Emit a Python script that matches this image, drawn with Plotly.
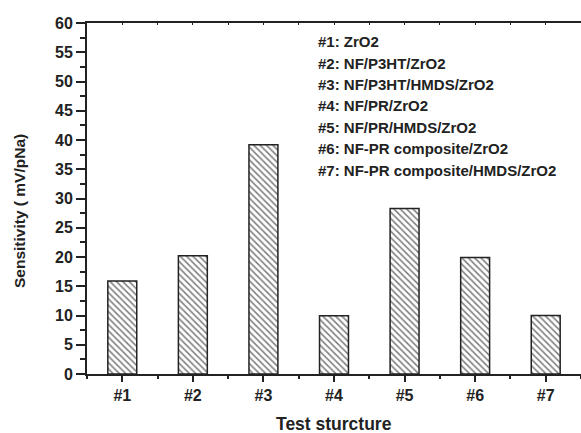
import plotly.graph_objects as go

categories = ["#1", "#2", "#3", "#4", "#5", "#6", "#7"]
sensitivity = [15.9, 20.2, 39.2, 9.95, 28.3, 19.9, 10.0]
legend_lines = [
    "#1: ZrO2",
    "#2: NF/P3HT/ZrO2",
    "#3: NF/P3HT/HMDS/ZrO2",
    "#4: NF/PR/ZrO2",
    "#5: NF/PR/HMDS/ZrO2",
    "#6: NF-PR composite/ZrO2",
    "#7: NF-PR composite/HMDS/ZrO2",
]
y_ticks = list(range(0, 61, 5))

W, H = 581, 433
L, T, B, R = 87, 23, 59, 0
plot_h = H - T - B
plot_w = W - L - R

FONT = "Liberation Sans, Arial, sans-serif"
INK = "#222222"
xs = list(range(len(categories)))

fig = go.Figure()
fig.add_trace(go.Bar(
    x=xs, y=sensitivity, width=0.41,
    marker=dict(
        color="white",
        line=dict(color=INK, width=1.5),
        pattern=dict(shape="\\", fgcolor="#000000", bgcolor="white", size=4.5, solidity=0.35),
    ),
    showlegend=False,
))
# invisible trace to carry the top axis
fig.add_trace(go.Scatter(x=[xs[0]], y=[0], xaxis="x2", mode="markers",
                         marker=dict(opacity=0), showlegend=False, hoverinfo="skip"))

half_ticks = [i - 0.5 for i in range(len(categories) + 1)]
top_ticks = sorted(xs + half_ticks)

fig.update_layout(
    width=W, height=H,
    margin=dict(l=L, r=R, t=T, b=B, pad=0),
    paper_bgcolor="white", plot_bgcolor="white",
    font=dict(family=FONT, size=15, color=INK),
    xaxis=dict(
        range=[-0.5, 6.5], tickvals=xs, ticktext=["<b>%s</b>" % c for c in categories],
        ticks="outside", ticklen=6, tickwidth=1.5, tickcolor=INK,
        showline=True, linecolor=INK, linewidth=1.8,
        showgrid=False, zeroline=False,
        tickfont=dict(family=FONT, size=16, color=INK),
        minor=dict(tickvals=half_ticks, ticks="outside", ticklen=3, tickwidth=1.5, tickcolor=INK),
    ),
    xaxis2=dict(
        overlaying="x", side="top", anchor="y", range=[-0.5, 6.5],
        tickvals=top_ticks, ticks="inside", ticklen=2, tickwidth=1.2, tickcolor=INK,
        showticklabels=False, showline=True, linecolor=INK, linewidth=1.8,
        showgrid=False, zeroline=False,
    ),
    yaxis=dict(
        range=[0, 60], tickvals=y_ticks, ticktext=["<b>%d</b>" % v for v in y_ticks],
        ticks="outside", ticklen=9, tickwidth=1.5, tickcolor=INK,
        showline=True, linecolor=INK, linewidth=1.8,
        showgrid=False, zeroline=False,
        tickfont=dict(family=FONT, size=16, color=INK),
        minor=dict(dtick=2.5, ticks="outside", ticklen=5, tickwidth=1.5, tickcolor=INK),
    ),
)

def px_to_paper_y(py):
    return (H - B - py) / plot_h

def px_to_paper_x(px):
    return (px - L) / plot_w

# axis titles
fig.add_annotation(text="<b>Test sturcture</b>", xref="paper", yref="paper",
                   x=px_to_paper_x(334), y=px_to_paper_y(424),
                   xanchor="center", yanchor="middle", showarrow=False,
                   font=dict(family=FONT, size=17.5, color=INK))
fig.add_annotation(text="<b>Sensitivity ( mV/pNa)</b>", xref="paper", yref="paper",
                   x=px_to_paper_x(19), y=px_to_paper_y(211), textangle=-90,
                   xanchor="center", yanchor="middle", showarrow=False,
                   font=dict(family=FONT, size=15.5, color=INK))

# legend text lines
for i, line in enumerate(legend_lines):
    fig.add_annotation(text="<b>" + line + "</b>", xref="paper", yref="paper",
                       x=px_to_paper_x(316), y=px_to_paper_y(41.7 + 21.4 * i),
                       xanchor="left", yanchor="middle", showarrow=False,
                       font=dict(family=FONT, size=15, color=INK))

fig.write_html("out.html")
